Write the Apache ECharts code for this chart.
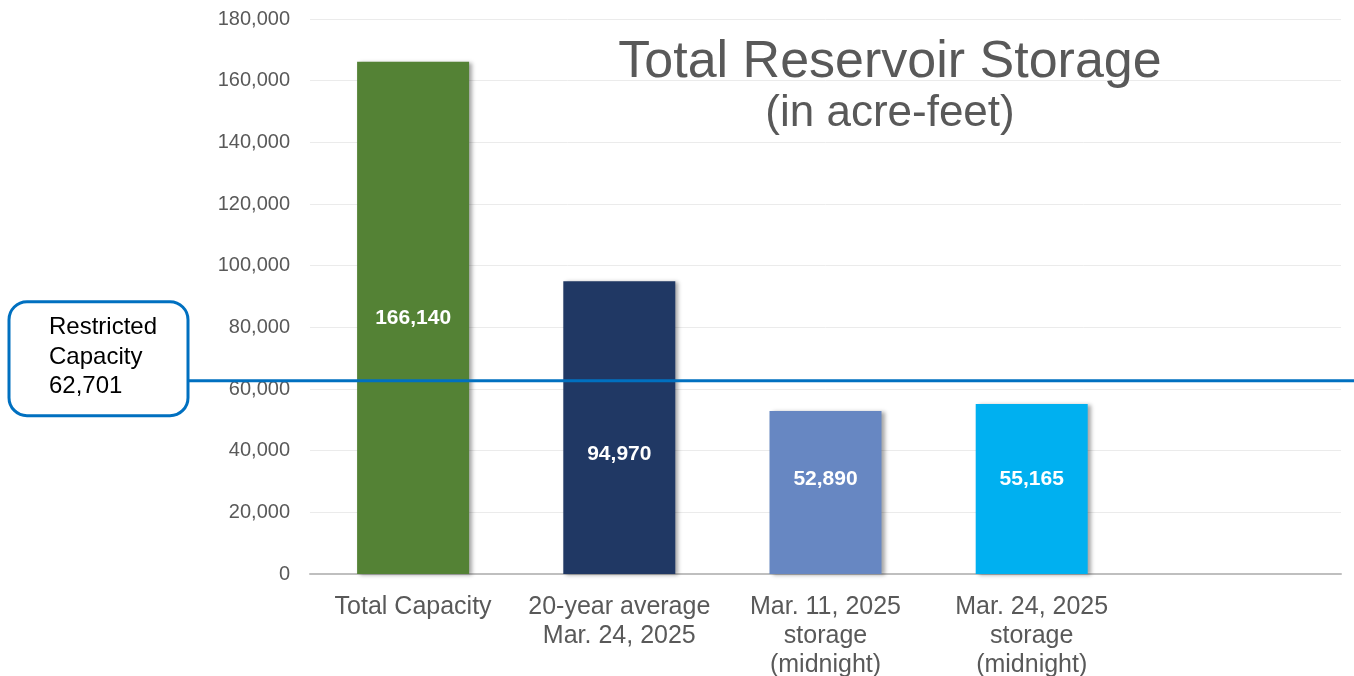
<!DOCTYPE html>
<html>
<head>
<meta charset="utf-8">
<script src="https://cdn.jsdelivr.net/npm/echarts@6/dist/echarts.min.js"></script>
<style>
    html, body { margin: 0; padding: 0; background: #fff; }
    #chart { width: 1354px; height: 676px; }
</style>
</head>
<body>
<div id="chart"></div>
<script>
// categories (last slot is empty in the original)
var categories = ["Total Capacity", "20-year average\nMar. 24, 2025", "Mar. 11, 2025\nstorage\n(midnight)", "Mar. 24, 2025\nstorage\n(midnight)", ""];
var storageValues = [166140, 94970, 52890, 55165, null];
var barColors = ["#548235", "#203864", "#6787C2", "#00B0F0", "#ffffff"];
// value labels were nudged by hand in the original
var labelOffsets = [0, 27, -13, -10, 0];
var restrictedCapacity = 62701;
var restrictedLabel = "Restricted\nCapacity\n62,701";

var fontName = "Liberation Sans, Arial, sans-serif";

function fmt(v) {
    return Number(v).toLocaleString("en-US");
}

var myChart = echarts.init(document.getElementById("chart"));

let barData = [];
for (let i = 0; i < storageValues.length; i++) {
    barData.push({
        value: storageValues[i],
        itemStyle: {color: barColors[i]},
        label: {offset: [0, labelOffsets[i]]}
    });
}

let option = {
    animation: false,
    textStyle: {fontFamily: fontName},
    title: {
        text: "Total Reservoir Storage",
        subtext: "(in acre-feet)",
        left: 885,
        top: 32,
        textAlign: "center",
        itemGap: 3,
        textStyle: {fontSize: 52, fontWeight: "normal", color: "#595959", fontFamily: fontName},
        subtextStyle: {fontSize: 44, color: "#595959", fontFamily: fontName}
    },
    grid: {left: 310, right: 13, top: 19, bottom: 102, containLabel: false, outerBoundsMode: "none"},
    xAxis: {
        type: "category",
        data: categories,
        axisLine: {lineStyle: {color: "#BFBFBF", width: 2}},
        axisTick: {show: false},
        axisLabel: {
            interval: 0,
            color: "#595959",
            fontSize: 25,
            lineHeight: 29,
            margin: 19,
            fontFamily: fontName
        }
    },
    yAxis: {
        type: "value",
        min: 0,
        max: 180000,
        interval: 20000,
        axisLine: {show: false},
        axisTick: {show: false},
        splitLine: {lineStyle: {color: "#EBEBEB", width: 1}},
        axisLabel: {
            color: "#595959",
            fontSize: 20,
            margin: 20,
            fontFamily: fontName,
            formatter: function (v) { return fmt(v); }
        }
    },
    series: [{
        type: "bar",
        data: barData,
        barWidth: 112,
        itemStyle: {
            shadowBlur: 4,
            shadowColor: "rgba(0,0,0,0.35)",
            shadowOffsetX: 3,
            shadowOffsetY: 1
        },
        label: {
            show: true,
            position: "inside",
            color: "#ffffff",
            fontSize: 21,
            fontWeight: "bold",
            fontFamily: fontName,
            formatter: function (p) { return p.value == null ? "" : fmt(p.value); }
        }
    }]
};
myChart.setOption(option);

// restricted capacity line + callout box, placed with the chart's own y scale
let lineY = myChart.convertToPixel({yAxisIndex: 0}, restrictedCapacity);
myChart.setOption({
    graphic: [
        {
            type: "line",
            shape: {x1: 188, y1: lineY, x2: 1354, y2: lineY},
            style: {stroke: "#0070C0", lineWidth: 3},
            z: 100
        },
        {
            type: "rect",
            shape: {x: 9, y: lineY - 79, width: 179, height: 114, r: 18},
            style: {fill: "#ffffff", stroke: "#0070C0", lineWidth: 3},
            z: 100
        },
        {
            type: "text",
            x: 49,
            y: lineY - 68,
            style: {
                text: restrictedLabel,
                fill: "#000000",
                font: "24px " + fontName,
                lineHeight: 29.5
            },
            z: 101
        }
    ]
});
</script>
</body>
</html>
